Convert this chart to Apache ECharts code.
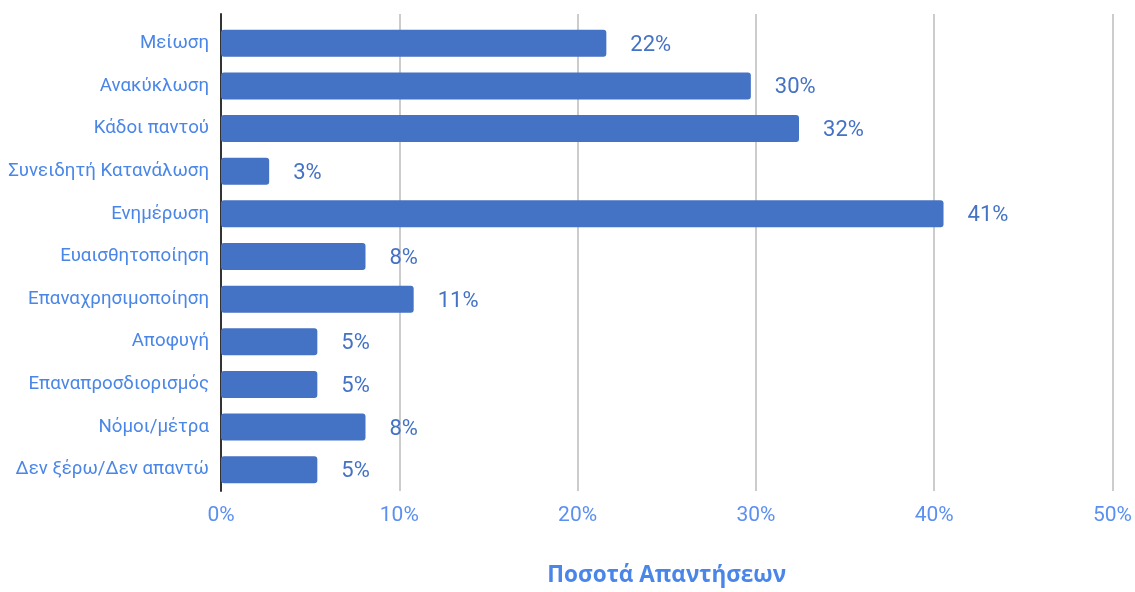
<!DOCTYPE html>
<html>
<head>
<meta charset="utf-8">
<script src="https://cdn.jsdelivr.net/npm/echarts@6/dist/echarts.min.js"></script>
<style>
  html, body { margin: 0; padding: 0; background: #fff; }
  #chart { width: 1135px; height: 592px; }
</style>
</head>
<body>
<div id="chart"></div>
<script>
// Survey answers, top to bottom
const categories = [
  'Μείωση', 'Ανακύκλωση', 'Κάδοι παντού', 'Συνειδητή Κατανάλωση', 'Ενημέρωση',
  'Ευαισθητοποίηση', 'Επαναχρησιμοποίηση', 'Αποφυγή', 'Επαναπροσδιορισμός',
  'Νόμοι/μέτρα', 'Δεν ξέρω/Δεν απαντώ'
];
// Share of answers, percent
const shares = [21.6, 29.7, 32.4, 2.7, 40.5, 8.1, 10.8, 5.4, 5.4, 8.1, 5.4];
const xTicks = [0, 10, 20, 30, 40, 50];
const axisTitle = 'Ποσοτά Απαντήσεων';

const FONT = 'Roboto, "Noto Sans", sans-serif';
const chart = echarts.init(document.getElementById('chart'));

chart.setOption({
  animation: false,
  backgroundColor: '#ffffff',
  grid: [
    // frame: gridlines, vertical axis line and tick labels
    { left: 221, right: 22, top: 14, bottom: 95 },
    // bars and category labels
    { left: 221, right: 22, top: 22, bottom: 101 }
  ],
  xAxis: [
    {
      gridIndex: 0, type: 'value',
      min: xTicks[0], max: xTicks[xTicks.length - 1], interval: 10,
      axisLine: { show: false }, axisTick: { show: false },
      splitLine: { show: true, lineStyle: { color: '#cccccc', width: 2 } },
      axisLabel: {
        color: '#5b8ff0', fontSize: 21, fontFamily: FONT, margin: 14,
        formatter: v => v + '%'
      },
      name: axisTitle, nameLocation: 'middle', nameGap: 73,
      nameTextStyle: { color: '#4a86e8', fontSize: 22.5, fontWeight: 'bold', fontFamily: '"Open Sans", "Noto Sans", sans-serif' }
    },
    {
      gridIndex: 1, type: 'value',
      min: xTicks[0], max: xTicks[xTicks.length - 1],
      show: false, splitLine: { show: false }
    }
  ],
  yAxis: [
    {
      gridIndex: 0, type: 'category', data: categories, inverse: true,
      axisLine: { show: true, lineStyle: { color: '#333333', width: 2 } },
      axisTick: { show: false }, axisLabel: { show: false }, splitLine: { show: false }
    },
    {
      gridIndex: 1, type: 'category', data: categories, inverse: true,
      axisLine: { show: false }, axisTick: { show: false },
      axisLabel: { color: '#4a86e8', fontSize: 18.7, fontFamily: FONT, margin: 12 }
    }
  ],
  series: [{
    type: 'bar',
    xAxisIndex: 1, yAxisIndex: 1,
    data: shares,
    barWidth: 27,
    itemStyle: { color: '#4472c4', borderRadius: 3 },
    label: {
      show: true, position: 'right', distance: 24, offset: [0, 2],
      color: '#4472c4', fontSize: 22, fontFamily: FONT,
      formatter: p => Math.round(p.value) + '%'
    }
  }]
});
</script>
</body>
</html>
